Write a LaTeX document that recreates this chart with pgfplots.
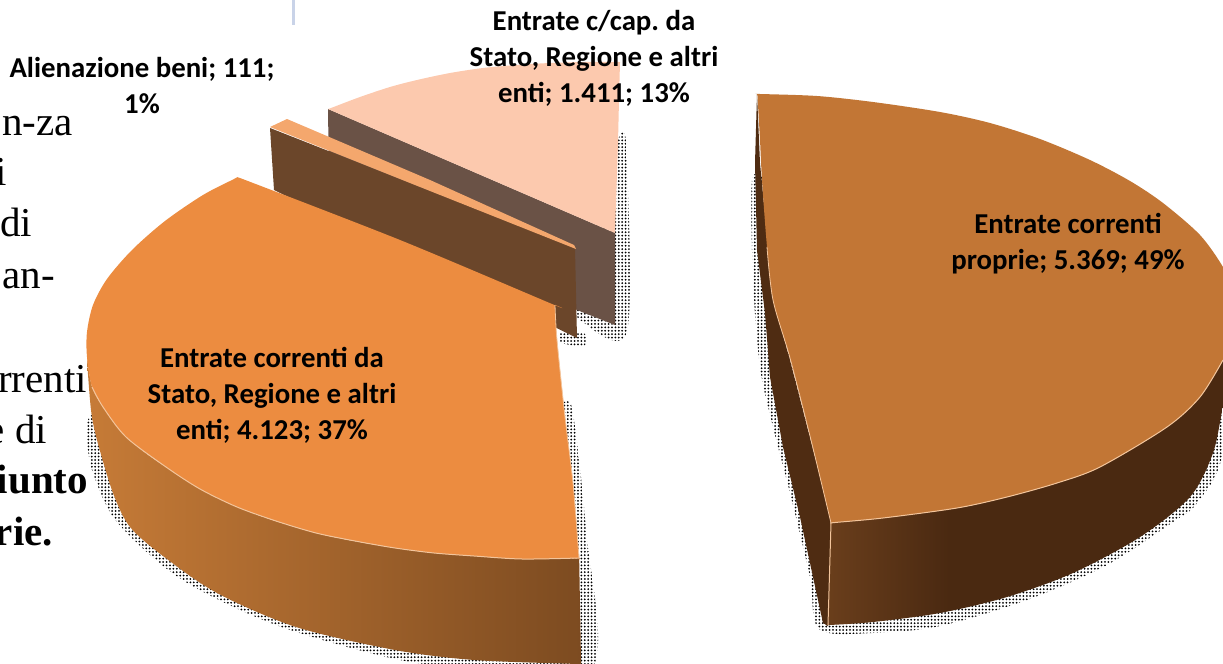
\documentclass[border=0pt]{standalone}
\usepackage{pgfplots}
\pgfplotsset{compat=1.18}
\usepackage{fontspec}
\setmainfont{Liberation Serif}
\newfontfamily\lab{Carlito}
\usetikzlibrary{patterns.meta}
\definecolor{topA}{HTML}{C27635}
\definecolor{topB}{HTML}{EC8C40}
\definecolor{topC}{HTML}{F4A76D}
\definecolor{topD}{HTML}{FCC9AE}
\definecolor{wallAi}{HTML}{4F2C12}
\definecolor{wallAl}{HTML}{6B3F1C}
\definecolor{wallAr}{HTML}{4A2911}
\definecolor{wallBl}{HTML}{C67B37}
\definecolor{wallBr}{HTML}{7B4A20}
\definecolor{wallC}{HTML}{6B462A}
\definecolor{wallD}{HTML}{6A5246}
\definecolor{edgeL}{HTML}{F3C59C}
\definecolor{bar}{HTML}{C9D3E8}
\pgfdeclarehorizontalshading{wallAshade}{100bp}{color(0bp)=(wallAl); color(25bp)=(wallAl); color(40bp)=(wallAr); color(100bp)=(wallAr)}
\tikzset{dotshadow/.style={draw=none,smooth,pattern={Dots[distance=1.7pt,radius=0.5pt]},pattern color=black},
 bodytxt/.style={anchor=base east,inner sep=0pt,outer sep=0pt,font=\fontsize{20.5}{25}\selectfont},
 lbl/.style={align=center,inner sep=0pt,outer sep=0pt,font=\fontsize{14.4}{18}\selectfont\lab\bfseries\frenchspacing}}
\begin{document}
\begin{tikzpicture}
\path[use as bounding box,clip] (0,0) rectangle (611.5pt,332pt);
\begin{axis}[anchor=south west,at={(0pt,0pt)},scale only axis,width=611.5pt,height=332pt,
 xmin=0,xmax=1223,ymin=0,ymax=664,y dir=reverse,hide axis]
% small bar top-left
\addplot[draw=none,fill=bar] coordinates {(292,0)(295,0)(295,25)(292,25)} -- cycle;
% shadows
\addplot[dotshadow] coordinates {(617,143)(626,143)(627,332)(580,320)(578,305)} -- cycle;
\addplot[dotshadow] coordinates {(560,333)(584,333)(584,346)(560,343)} -- cycle;
\addplot[dotshadow] coordinates {(95,410)(88,420)(87,440)(93,473)(117,522)(181,579)(276,625)(395,659)(474,668)(592,668)(586,530)(572,408)(560,408)} -- cycle;
\addplot[dotshadow] coordinates {(765,180)(752,180)(753,280)(760,367)(773,427)(790,493)(810,577)(819,629)(873,633)(940,626)(1027,600)(1107,565)(1173,522)(1197,503)(1223,450)(1223,300)} -- cycle;
% slice 4
\addplot[draw=none,fill=wallD] coordinates {(328,109)(615,233)(615,325)(577,310)(329,180)} -- cycle;
\addplot[draw=none,smooth,fill=topD] coordinates {(328,109)(331,108)(360,97)(390,87)(417,80)(450,73)(483,68)(516,65)(550,63)(585,62)(619,62)(620,62)} -- (619,100) -- (618,143) -- (615,233) -- cycle;
% slice 3
\addplot[draw=none,fill=wallC] coordinates {(270,128)(575,248)(577,338)(274,190)} -- cycle;
\addplot[draw=none,fill=topC] coordinates {(270,127)(287,119)(430,180)(574,245)(576,249)(420,187)} -- cycle;
% slice 2 wall and top
\addplot[draw=none,smooth,left color=wallBl,right color=wallBr] coordinates {(87,357)(92,387)(103,407)(126,437)(166,467)(237,507)(316,533)(395,548)(474,556)(522,559)(576,558.5)(579,558)(579.2,561)(581,661)(581,664)(578,664)(474,660)(395,650)(296,627)(217,593)(163,556)(130,527)(113,493)(97,440)(91,410)(87,360)} -- cycle;
\addplot[draw=none,smooth,fill=topB] coordinates {(237,177)(234,179)(203,195)(165,221)(132,250)(107,279)(93,305)(87,332)(87,357)(92,387)(103,407)(126,437)(166,467)(200,489)(237,507)(276,521)(316,533)(355,541)(395,548)(434,553)(474,556)(522,559)(576,558.5)(579,558)(578.8,555)(573,483)(565,417)(557,340)(555,308)(555,305)(552,304)(400,240)(240,178)} -- cycle;
\addplot[draw=edgeL,line width=0.5pt,smooth] coordinates {(92,387)(103,407)(126,437)(166,467)(200,489)(237,507)(276,521)(316,533)(355,541)(395,548)(434,553)(474,556)(522,559)(579,558)};
\addplot[draw=edgeL,line width=0.4pt,smooth] coordinates {(579,558)(573,483)(565,417)(557,340)(555,305)};
% slice 1 walls and top
\addplot[draw=none,fill=wallAi] coordinates {(757,94)(755,163)(757,250)(765,313)(770,377)(783,447)(800,517)(823,623)(828,626)(832,523)(790,360)(773,300)(760,163)} -- cycle;
\addplot[draw=none,smooth,shade,shading=wallAshade] coordinates {(831,523)(835,522.5)(883,518)(957,508)(1007,497)(1057,483)(1100,467)(1167,427)(1200,397)(1223,360)(1240,330)(1241,345)(1232,380)(1223,407)(1213,453)(1190,497)(1140,537)(1073,573)(1007,597)(940,613)(873,622)(830,625)(827,625)(828,622)} -- cycle;
\addplot[draw=edgeL,line width=0.5pt] coordinates {(831,523)(828,625)};
\addplot[draw=none,smooth,fill=topA] coordinates {(757,94)(760,94)(817,96)(873,102)(940,112)(990,123)(1040,139)(1090,160)(1130,181)(1163,203)(1200,235)(1223,267)(1236,295)(1241,315)(1237,338)(1223,360)(1200,397)(1167,427)(1100,467)(1057,483)(1007,497)(957,508)(883,518)(835,522.5)(831,523)(830.3,520)(811,440)(790,358)(773,300)(767,247)(762,180)(760,140)(757.5,96)} -- cycle;
\addplot[draw=edgeL,line width=0.5pt,smooth] coordinates {(1223,360)(1200,397)(1167,427)(1100,467)(1057,483)(1007,497)(957,508)(883,518)(835,522.5)(831,523)};
\addplot[draw=edgeL,line width=0.4pt,smooth] coordinates {(831,523)(811,440)(790,358)(773,300)(767,247)};
% body text behind the chart
\node[bodytxt] at (axis cs:73,135) {n-za};
\node[bodytxt] at (axis cs:7,185) {i};
\node[bodytxt] at (axis cs:32,236) {di};
\node[bodytxt] at (axis cs:55,288) {an-};
\node[bodytxt] at (axis cs:87,392) {rrenti};
\node[bodytxt] at (axis cs:47,443) {e di};
\node[bodytxt,font=\fontsize{20.5}{25}\selectfont\bfseries] at (axis cs:88,493) {iunto};
\node[bodytxt,font=\fontsize{20.5}{25}\selectfont\bfseries] at (axis cs:53,545) {rie.};
% labels
\node[lbl] at (axis cs:142,86) {Alienazione beni; 111;\\1\%};
\node[lbl] at (axis cs:594,58) {Entrate c/cap. da\\Stato, Regione e altri\\enti; 1.411; 13\%};
\node[lbl] at (axis cs:272,395) {Entrate correnti da\\Stato, Regione e altri\\enti; 4.123; 37\%};
\node[lbl] at (axis cs:1068,244) {Entrate correnti\\proprie; 5.369; 49\%};
\end{axis}
\end{tikzpicture}
\end{document}
